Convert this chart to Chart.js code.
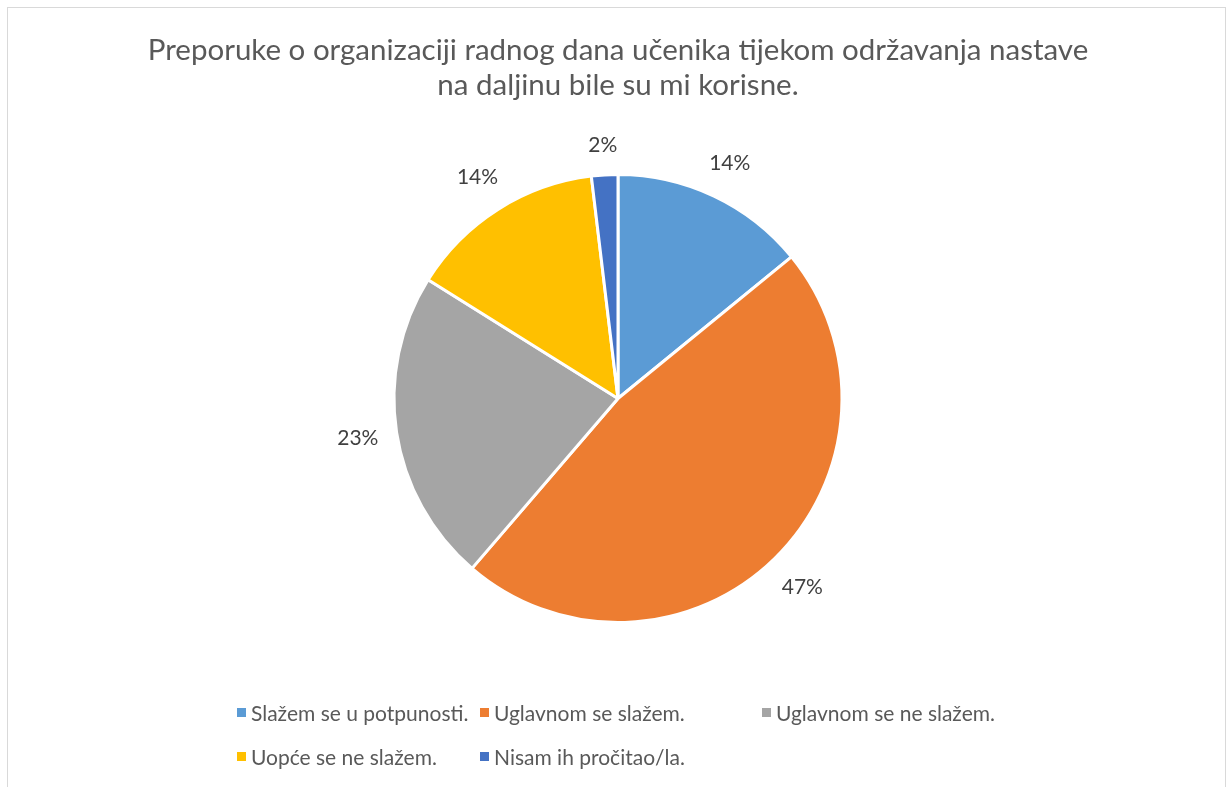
<!DOCTYPE html>
<html>
<head>
<meta charset="utf-8">
<script src="https://cdn.jsdelivr.net/npm/chart.js@4.4.0/dist/chart.umd.min.js"></script>
<style>
body { margin: 0; background: #fff; font-family: Lato, "Open Sans", sans-serif; }
#frame { position: absolute; left: 7px; top: 7px; width: 1219px; height: 790px; border: 1px solid #d9d9d9; box-sizing: border-box; }
#wrap { position: absolute; left: 0; top: 0; width: 1228px; height: 787px; }
#legend { position: absolute; left: 237px; top: 700px; display: grid; grid-template-columns: 243px 282px auto; row-gap: 19px; color: #595959; font-size: 21px; line-height: 25px; }
#legend div { display: flex; align-items: center; white-space: nowrap; }
#legend span.box { width: 9px; height: 9px; margin-right: 5px; display: inline-block; }
</style>
</head>
<body>
<div id="frame"></div>
<div id="wrap"><canvas id="pieChart" width="1228" height="787"></canvas></div>
<div id="legend"></div>
<script>
var titleLines = ['Preporuke o organizaciji radnog dana učenika tijekom održavanja nastave', 'na daljinu bile su mi korisne.']
var labels = ['Slažem se u potpunosti.', 'Uglavnom se slažem.', 'Uglavnom se ne slažem.', 'Uopće se ne slažem.', 'Nisam ih pročitao/la.']
var values = [14.1, 47.2, 22.6, 14.2, 1.9]
var colors = ['#5B9BD5', '#ED7D31', '#A5A5A5', '#FFC000', '#4472C4']

// percentage labels just outside each slice
var outsideLabels = {
    id: 'outsideLabels',
    afterDatasetsDraw: function(chart) {
        var ctx = chart.ctx
        var meta = chart.getDatasetMeta(0)
        var total = values.reduce(function(a, b) { return a + b }, 0)
        ctx.save()
        ctx.font = '21px Lato, "Open Sans", sans-serif'
        ctx.fillStyle = '#404040'
        ctx.textAlign = 'center'
        ctx.textBaseline = 'middle'
        meta.data.forEach(function(arc, i) {
            var p = arc.getProps(['x', 'y', 'startAngle', 'endAngle', 'outerRadius'], true)
            var mid = (p.startAngle + p.endAngle) / 2
            var txt = Math.round(values[i] / total * 100) + '%'
            var w = ctx.measureText(txt).width
            var h = 24
            var c = Math.cos(mid), s = Math.sin(mid)
            var ext = Math.abs(w / 2 * c) + Math.abs(h / 2 * s)
            var r = p.outerRadius + 17 + ext
            ctx.fillText(txt, p.x + c * r, p.y + s * r)
        })
        ctx.restore()
    }
}

var ctx = document.getElementById('pieChart').getContext('2d')
var chart = new Chart(ctx, {
    type: 'pie',
    data: {
        labels: labels,
        datasets: [{
            data: values,
            backgroundColor: colors,
            borderColor: '#ffffff',
            borderWidth: 3
        }]
    },
    options: {
        responsive: false,
        animation: false,
        layout: { padding: { top: 0, bottom: 163, left: 8, right: 0 } },
        plugins: {
            legend: { display: false },
            tooltip: { enabled: false },
            title: {
                display: true,
                text: titleLines,
                color: '#595959',
                font: { family: 'Lato, "Open Sans", sans-serif', size: 29.5, weight: 'normal', lineHeight: '35px' },
                padding: { top: 33, bottom: 70 }
            }
        }
    },
    plugins: [outsideLabels]
})

var legend = document.getElementById('legend')
labels.forEach(function(l, i) {
    var d = document.createElement('div')
    d.innerHTML = '<span class="box" style="background:' + colors[i] + '"></span>' + l
    legend.appendChild(d)
})
</script>
</body>
</html>
